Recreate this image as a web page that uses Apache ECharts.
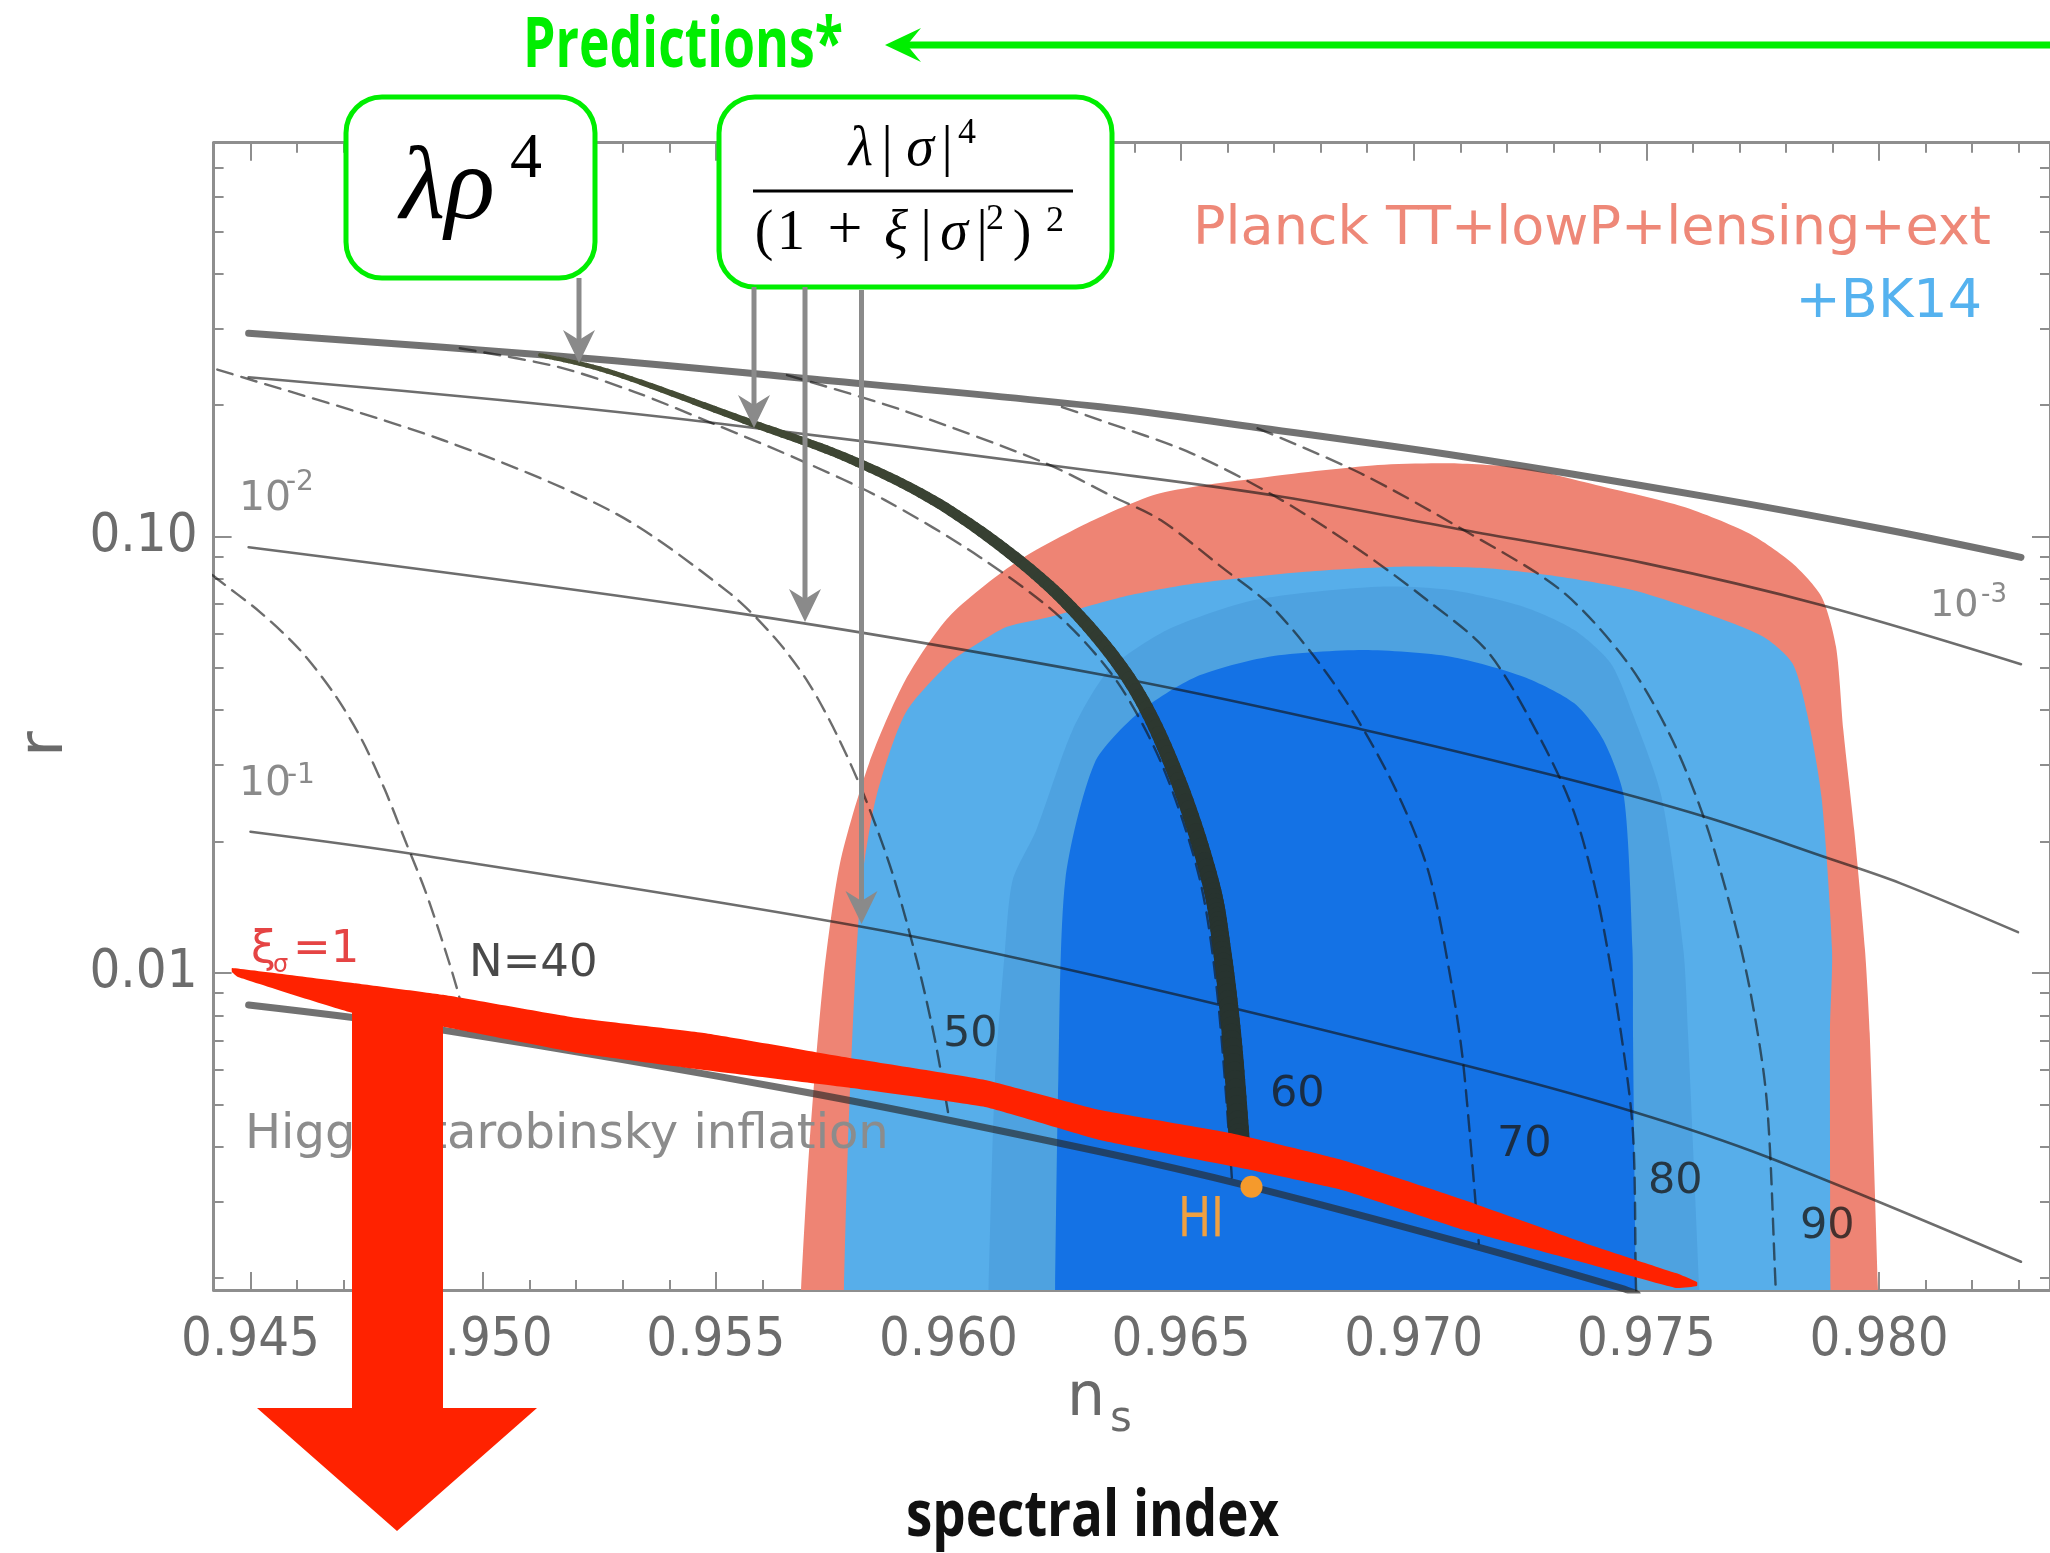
<!DOCTYPE html>
<html>
<head>
<meta charset="utf-8">
<title>Inflation predictions in the r – n_s plane</title>
<script src="https://cdn.jsdelivr.net/npm/echarts@6.0.0/dist/echarts.min.js"></script>
<style>
html,body{margin:0;padding:0;background:#ffffff;}
#chart{width:2050px;height:1553px;}
</style>
</head>
<body>
<div id="chart"></div>
<script>
// ---------------- axis ranges and ticks ----------------
const nsRange = [0.944207, 0.983674];
const rRange = [0.001879, 0.7984];
const nsMajorTicks = [0.945, 0.950, 0.955, 0.960, 0.965, 0.970, 0.975, 0.980];
const nsTickLabels = ['0.945', '0.950', '0.955', '0.960', '0.965', '0.970', '0.975', '0.980'];
const nsMinorTicks = [0.945,0.946,0.947,0.948,0.949,0.950,0.951,0.952,0.953,0.954,0.955,0.956,0.957,0.958,0.959,0.960,0.961,0.962,0.963,0.964,0.965,0.966,0.967,0.968,0.969,0.970,0.971,0.972,0.973,0.974,0.975,0.976,0.977,0.978,0.979,0.980,0.981,0.982,0.983];
const rMajorTicks = [0.01, 0.1];
const rTickLabels = ['0.01', '0.10'];
const rMinorTicks = [0.002,0.003,0.004,0.005,0.006,0.007,0.008,0.009,0.02,0.03,0.04,0.05,0.06,0.07,0.08,0.09,0.2,0.3,0.4,0.5,0.6,0.7];

// ---------------- confidence regions [n_s, r] ----------------
const planckRegion = [[0.956790,0.0014],[0.956810,0.0017],[0.957010,0.004000],[0.957310,0.009638],[0.957669,0.01784],[0.958293,0.03022],[0.959075,0.04690],[0.960012,0.06551],[0.961420,0.08684],[0.962978,0.1072],[0.964547,0.1256],[0.966889,0.1371],[0.969232,0.1458],[0.970794,0.1471],[0.972357,0.1433],[0.973917,0.1312],[0.975795,0.1170],[0.977201,0.1017],[0.978138,0.08684],[0.978763,0.07280],[0.979075,0.05591],[0.979232,0.03602],[0.979466,0.02127],[0.979698,0.01129],[0.979799,0.007286],[0.979990,0.0017],[0.980010,0.0014]];
const bk14Outer = [[0.957740,0.0014],[0.957744,0.0017],[0.957839,0.004000],[0.957992,0.009638],[0.958142,0.01633],[0.958449,0.02533],[0.959075,0.03936],[0.960012,0.05124],[0.960635,0.05692],[0.961258,0.06213],[0.962200,0.06551],[0.963762,0.07280],[0.965325,0.07813],[0.967670,0.08307],[0.969700,0.08530],[0.971574,0.08458],[0.973139,0.08090],[0.974701,0.07541],[0.976264,0.06670],[0.977512,0.05894],[0.978138,0.05124],[0.978452,0.03936],[0.978763,0.02533],[0.978989,0.01129],[0.978946,0.007286],[0.978957,0.0017],[0.978960,0.0014]];
const planckInner = [[0.960840,0.0014],[0.960850,0.0017],[0.961000,0.005687],[0.961215,0.01129],[0.961381,0.01633],[0.961888,0.02127],[0.962668,0.03602],[0.963450,0.04943],[0.964697,0.06106],[0.966575,0.07154],[0.969232,0.07674],[0.970794,0.07541],[0.972357,0.06906],[0.973451,0.06106],[0.974233,0.05124],[0.974701,0.03936],[0.975325,0.02533],[0.975795,0.01129],[0.975894,0.007286],[0.976152,0.0017],[0.976170,0.0014]];
const bk14Inner = [[0.962280,0.0014],[0.962286,0.0017],[0.962361,0.005687],[0.962511,0.01633],[0.963137,0.03022],[0.964074,0.03936],[0.965325,0.04773],[0.966889,0.05305],[0.968920,0.05495],[0.970794,0.05305],[0.972357,0.04773],[0.973451,0.04148],[0.974076,0.03419],[0.974518,0.02530],[0.974701,0.01129],[0.974712,0.007286],[0.974776,0.0017],[0.974780,0.0014]];

// ---------------- model curves [n_s, r] ----------------
const quarticLimit = [[0.94496,0.2921],[0.951596,0.2591],[0.956530,0.2323],[0.963257,0.1983],[0.966513,0.1784],[0.971071,0.1523],[0.976281,0.1234],[0.980192,0.1035],[0.983050,0.0896]];
const xiCurve1e3 = [[0.94496,0.2316],[0.950362,0.2055],[0.954927,0.1823],[0.963257,0.1408],[0.967164,0.1234],[0.971071,0.1035],[0.974981,0.0868],[0.978753,0.0697],[0.983050,0.0510]];
const xiCurve1e2 = [[0.94496,0.0945],[0.955297,0.0672],[0.963537,0.04773],[0.968866,0.0362],[0.973143,0.02812],[0.976259,0.0228],[0.978957,0.01825],[0.980450,0.01607],[0.982986,0.01241]];
const xiCurve1e1 = [[0.945,0.02107],[0.948636,0.01864],[0.958136,0.01277],[0.963257,0.009806],[0.971071,0.006154],[0.974718,0.004811],[0.977585,0.003794],[0.983050,0.002181]];
const higgsStarobinsky = [[0.94496,0.008447],[0.949128,0.007402],[0.957025,0.005311],[0.963257,0.003896],[0.966513,0.003238],[0.971071,0.002406],[0.974454,0.001899],[0.974800,0.001840]];
const efolds40 = [[0.943777,0.0891],[0.944207,0.0812],[0.945204,0.06714],[0.946064,0.05495],[0.946816,0.04334],[0.947396,0.03418],[0.947891,0.02625],[0.948320,0.02017],[0.948750,0.01549],[0.949116,0.01190],[0.949416,0.009387],[0.949674,0.007402]];
const efolds50 = [[0.943777,0.2511],[0.944207,0.2428],[0.949128,0.1664],[0.952829,0.1132],[0.955297,0.0742],[0.956272,0.05854],[0.956981,0.04642],[0.957626,0.03473],[0.958228,0.02489],[0.958808,0.01677],[0.959346,0.01043],[0.959711,0.007022],[0.959990,0.004804]];
const efolds60 = [[0.949498,0.2699],[0.951596,0.2449],[0.953263,0.2143],[0.954927,0.1817],[0.956810,0.1497],[0.958636,0.1212],[0.960678,0.0897],[0.962397,0.0654],[0.963644,0.0462],[0.964611,0.02964],[0.965406,0.01633],[0.965793,0.008671],[0.966094,0.003355]];
const efolds70 = [[0.956530,0.2344],[0.959002,0.1949],[0.962075,0.1474],[0.963537,0.1234],[0.964560,0.1091],[0.965858,0.0853],[0.967018,0.0679],[0.968415,0.04402],[0.969533,0.02739],[0.970306,0.01722],[0.970811,0.009471],[0.971071,0.006100],[0.971398,0.002403]];
const efolds80 = [[0.962440,0.1980],[0.963257,0.1849],[0.965213,0.1553],[0.967035,0.1234],[0.968727,0.0948],[0.970284,0.07154],[0.971596,0.05436],[0.972713,0.03455],[0.973466,0.02301],[0.974003,0.01394],[0.974454,0.007286],[0.974712,0.004300],[0.974776,0.001909],[0.974797,0.001800]];
const efolds90 = [[0.966644,0.1770],[0.968857,0.1396],[0.971071,0.1035],[0.973156,0.07541],[0.974583,0.05160],[0.975507,0.03510],[0.976216,0.02301],[0.976797,0.01431],[0.977227,0.009145],[0.977585,0.005117],[0.977781,0.001879],[0.977796,0.001800]];
const sigmaPath = [[0.951222,0.2604],[0.952829,0.2365],[0.955791,0.1817],[0.957764,0.1523],[0.959668,0.1212],[0.961430,0.0897],[0.962827,0.0654],[0.964031,0.04447],[0.964933,0.02768],[0.965621,0.01633],[0.965879,0.01129],[0.966094,0.007022],[0.966253,0.004078]];
const xiSigmaOneBand = [[0.944602,0.010267],[0.947203,0.009486],[0.949169,0.008902],[0.952038,0.007885],[0.954746,0.007286],[0.957755,0.006420],[0.960786,0.005687],[0.963257,0.004854],[0.966051,0.004300],[0.968458,0.003729],[0.971080,0.003020],[0.973681,0.002406],[0.975636,0.002054],[0.976088,0.001959],
  [0.976088,0.001919],[0.975636,0.001899],[0.973681,0.002166],[0.971080,0.002577],[0.968458,0.003183],[0.966502,0.003537],[0.963257,0.004144],[0.960786,0.004932],[0.957755,0.005480],[0.954746,0.005995],[0.952038,0.006557],[0.949169,0.007520],[0.947203,0.008099],[0.944731,0.009790],[0.944602,0.010053]];
const higgsInflationPoint = [[0.966513, 0.003238]];

// ---------------- helpers ----------------
const chart = echarts.init(document.getElementById('chart'), null, {renderer: 'canvas', width: 2050, height: 1553});

function regionSeries(name, pts, color, z, smooth) {
  return {
    name, type: 'custom', coordinateSystem: 'cartesian2d', xAxisIndex: 0, yAxisIndex: 0,
    clip: true, silent: true, z, data: pts, encode: {x: 0, y: 1},
    renderItem(params, api) {
      if (params.dataIndex !== 0) return null;
      return {type: 'polygon', shape: {points: pts.map(p => api.coord(p)), smooth: smooth}, style: {fill: color}};
    }
  };
}
function curveSeries(name, pts, color, width, dash, z, smooth) {
  return {
    name, type: 'line', data: pts, xAxisIndex: 0, yAxisIndex: 0, symbol: 'none', showSymbol: false,
    smooth: smooth === undefined ? 0.35 : smooth, clip: true, silent: true, z,
    lineStyle: {color, width, type: dash || 'solid', cap: 'round'}
  };
}
function catmullRom(P, n) {
  const out = [];
  for (let i = 0; i < P.length - 1; i++) {
    const p0 = P[Math.max(i - 1, 0)], p1 = P[i], p2 = P[i + 1], p3 = P[Math.min(i + 2, P.length - 1)];
    for (let k = 0; k < n; k++) {
      const t = k / n, t2 = t * t, t3 = t2 * t;
      const f = d => 0.5 * (2 * p1[d] + (-p0[d] + p2[d]) * t + (2 * p0[d] - 5 * p1[d] + 4 * p2[d] - p3[d]) * t2 + (-p0[d] + 3 * p1[d] - 3 * p2[d] + p3[d]) * t3);
      out.push([f(0), f(1)]);
    }
  }
  out.push(P[P.length - 1]);
  return out;
}
function mixColor(a, b, t) {
  const pa = [1, 3, 5].map(i => parseInt(a.substr(i, 2), 16)), pb = [1, 3, 5].map(i => parseInt(b.substr(i, 2), 16));
  return 'rgb(' + pa.map((v, i) => Math.round(v + (pb[i] - v) * t)).join(',') + ')';
}
// variable-width path (thin at the top, thick at the bottom)
function taperedSeries(name, pts, w0, w1, c0, c1, z) {
  return {
    name, type: 'custom', coordinateSystem: 'cartesian2d', xAxisIndex: 0, yAxisIndex: 0,
    clip: true, silent: true, z, data: pts, encode: {x: 0, y: 1},
    renderItem(params, api) {
      if (params.dataIndex !== 0) return null;
      const S = catmullRom(pts.map(p => api.coord(p)), 14);
      const L = [0];
      for (let i = 1; i < S.length; i++) L.push(L[i - 1] + Math.hypot(S[i][0] - S[i - 1][0], S[i][1] - S[i - 1][1]));
      const total = L[L.length - 1];
      const children = [];
      for (let i = 0; i < S.length - 1; i++) {
        const t = (L[i] + L[i + 1]) / 2 / total;
        children.push({type: 'line', shape: {x1: S[i][0], y1: S[i][1], x2: S[i + 1][0], y2: S[i + 1][1]},
          style: {stroke: mixColor(c0, c1, Math.min(1, t * 1.3)), lineWidth: w0 + (w1 - w0) * t, lineCap: 'round'}});
      }
      return {type: 'group', children};
    }
  };
}
function measure(text, font) {
  const c = document.createElement('canvas').getContext('2d');
  c.font = font; return c.measureText(text).width;
}
const SANS = '"DejaVu Sans", sans-serif';
const COND = '"DejaVu Sans Condensed", "DejaVu Sans", sans-serif';
const SERIF = '"Liberation Serif", "DejaVu Serif", serif';
function T(text, x, y, size, fill, extra) {
  const st = Object.assign({text, fill, fontSize: size, fontFamily: SANS, align: 'left', verticalAlign: 'middle'}, (extra && extra.style) || {});
  return Object.assign({type: 'text', x, y, z: 100, silent: true, style: st}, (extra && extra.el) || {});
}

const xAxisBase = (pos) => ({
  type: 'value', position: pos, min: nsRange[0], max: nsRange[1],
  splitLine: {show: false}, axisPointer: {show: false}
});
const yAxisBase = (pos) => ({
  type: 'log', logBase: 10, position: pos, min: rRange[0], max: rRange[1],
  splitLine: {show: false}, minorSplitLine: {show: false}
});
const axisGrey = '#8e8e8e';

// ---------------- annotations ----------------
const predFont = 'bold 70px "Open Sans"';
const specFont = 'bold 64px "Open Sans"';
const predScale = 320 / measure('Predictions*', predFont);
const specScale = 373 / measure('spectral index', specFont);

const graphics = [];
// green headline
graphics.push(T('Predictions*', 523, 47, 70, '#00ee00', {style: {fontFamily: '"Open Sans"', fontWeight: 'bold'}, el: {scaleX: predScale}}));
graphics.push({type: 'line', z: 100, silent: true, shape: {x1: 905, y1: 45, x2: 2060, y2: 45}, style: {stroke: '#00ee00', lineWidth: 7}});
graphics.push({type: 'polygon', z: 101, silent: true, shape: {points: [[885, 45], [921, 28], [907, 45], [921, 62]]}, style: {fill: '#00ee00'}});
// boxes
graphics.push({type: 'rect', z: 100, silent: true, shape: {x: 346, y: 97, width: 249, height: 181, r: 36}, style: {fill: '#ffffff', stroke: '#00ee00', lineWidth: 5}});
graphics.push({type: 'rect', z: 100, silent: true, shape: {x: 719, y: 97, width: 393, height: 190, r: 36}, style: {fill: '#ffffff', stroke: '#00ee00', lineWidth: 5}});
// formula lambda rho^4
graphics.push(T('λρ', 400, 191, 104, '#000', {style: {fontFamily: SERIF, fontStyle: 'italic'}, el: {z: 102}}));
graphics.push(T('4', 510, 160, 64, '#000', {style: {fontFamily: SERIF}, el: {z: 102}}));
// formula fraction (glyph centres)
const glyphs = [
  ['λ', 861, 150, 56, true], ['|', 887, 150, 56, false], ['σ', 920, 150, 56, true], ['|', 947, 150, 56, false], ['4', 967, 134, 36, false],
  ['(', 764, 234, 56, false], ['1', 791, 234, 56, false], ['+', 845, 232, 62, false], ['ξ', 896, 234, 56, true], ['|', 926, 234, 56, false],
  ['σ', 954, 234, 56, true], ['|', 982, 234, 56, false], ['2', 995, 220, 36, false], [')', 1022, 234, 56, false], ['2', 1055, 222, 36, false]
];
glyphs.forEach(g => graphics.push(T(g[0], g[1], g[2], g[3], '#000', {style: {fontFamily: SERIF, fontStyle: g[4] ? 'italic' : 'normal', align: 'center'}, el: {z: 102}})));
graphics.push({type: 'line', z: 102, silent: true, shape: {x1: 753, y1: 191, x2: 1073, y2: 191}, style: {stroke: '#000', lineWidth: 3}});
// grey arrows
[[579, 278, 363], [754, 287, 428], [805, 287, 622], [861.5, 290, 924]].forEach(a => {
  graphics.push({type: 'line', z: 103, silent: true, shape: {x1: a[0], y1: a[1], x2: a[0], y2: a[2] - 18}, style: {stroke: '#8a8a8a', lineWidth: 5}});
  graphics.push({type: 'polygon', z: 103, silent: true, shape: {points: [[a[0], a[2]], [a[0] - 16, a[2] - 33], [a[0], a[2] - 23], [a[0] + 16, a[2] - 33]]}, style: {fill: '#8a8a8a'}});
});
// legend-like labels
graphics.push(T('Planck TT+lowP+lensing+ext', 1991, 230, 54, '#ee8878', {style: {align: 'right'}}));
graphics.push(T('+BK14', 1982, 303, 54, '#55b2ef', {style: {align: 'right'}}));
// xi labels
graphics.push(T('10', 1930, 606, 38, '#8a8a8a'));
graphics.push(T('-3', 1981, 595, 26, '#8a8a8a'));
graphics.push(T('10', 239, 499, 41, '#8a8a8a'));
graphics.push(T('-2', 286, 483, 28, '#8a8a8a'));
graphics.push(T('10', 239, 784, 41, '#8a8a8a'));
graphics.push(T('-1', 287, 776, 28, '#8a8a8a'));
// e-fold labels
const nCol = 'rgba(28,28,28,0.80)';
graphics.push(T('N=40', 469, 964, 45, nCol));
graphics.push(T('50', 943, 1035, 43, nCol));
graphics.push(T('60', 1270, 1095, 43, nCol));
graphics.push(T('70', 1497, 1145, 43, nCol));
graphics.push(T('80', 1648, 1182, 43, nCol));
graphics.push(T('90', 1800, 1227, 43, nCol));
graphics.push(T('HI', 1178, 1222, 55, '#f0a040', {el: {scaleX: 0.8}}));
// xi_sigma = 1
graphics.push(T('ξ', 251, 950, 45, '#e54444'));
graphics.push(T('σ', 273, 966, 24, '#e54444'));
graphics.push(T('=1', 293, 950, 45, '#e54444'));
// Higgs-Starobinsky
graphics.push(T('Higgs-Starobinsky inflation', 245, 1136, 48, '#8c8c8c'));
// big red arrow (annotation)
graphics.push({type: 'polygon', z: 110, silent: true, shape: {points: [[352, 996], [443, 996], [443, 1408], [537, 1408], [397, 1531], [257, 1408], [352, 1408]]}, style: {fill: '#ff2200'}});
// axis titles
graphics.push(T('r', 46, 744, 62, '#6a6a6a', {style: {align: 'center'}, el: {rotation: Math.PI / 2}}));
graphics.push(T('n', 1067, 1399, 60, '#6a6a6a'));
graphics.push(T('s', 1110, 1420, 42, '#6a6a6a'));
graphics.push(T('spectral index', 906, 1518, 64, '#111111', {style: {fontFamily: '"Open Sans"', fontWeight: 'bold'}, el: {scaleX: specScale}}));

// ---------------- option ----------------
const option = {
  animation: false,
  backgroundColor: '#ffffff',
  grid: {left: 213.6, right: 0, top: 142.7, bottom: 263, containLabel: false, outerBoundsMode: 'none'},
  xAxis: [
    Object.assign(xAxisBase('bottom'), {
      axisLine: {show: true, onZero: false, lineStyle: {color: axisGrey, width: 3}},
      axisTick: {show: true, inside: true, length: 18, customValues: nsMajorTicks, lineStyle: {color: axisGrey, width: 2}},
      axisLabel: {show: true, customValues: nsMajorTicks, margin: 24, fontSize: 54, fontFamily: COND, color: '#6c6c6c',
        formatter: v => nsTickLabels[nsMajorTicks.findIndex(t => Math.abs(t - v) < 1e-6)]}
    }),
    Object.assign(xAxisBase('bottom'), {
      axisLine: {show: false, onZero: false},
      axisTick: {show: true, inside: true, length: 10, customValues: nsMinorTicks, lineStyle: {color: axisGrey, width: 2}},
      axisLabel: {show: false}
    }),
    Object.assign(xAxisBase('top'), {
      axisLine: {show: true, onZero: false, lineStyle: {color: axisGrey, width: 3}},
      axisTick: {show: true, inside: true, length: 18, customValues: nsMajorTicks, lineStyle: {color: axisGrey, width: 2}},
      axisLabel: {show: false}
    }),
    Object.assign(xAxisBase('top'), {
      axisLine: {show: false, onZero: false},
      axisTick: {show: true, inside: true, length: 10, customValues: nsMinorTicks, lineStyle: {color: axisGrey, width: 2}},
      axisLabel: {show: false}
    })
  ],
  yAxis: [
    Object.assign(yAxisBase('left'), {
      axisLine: {show: true, onZero: false, lineStyle: {color: axisGrey, width: 3}},
      axisTick: {show: true, inside: true, length: 18, customValues: rMajorTicks, lineStyle: {color: axisGrey, width: 2}},
      axisLabel: {show: true, customValues: rMajorTicks, margin: 16, fontSize: 54, fontFamily: COND, color: '#6c6c6c',
        formatter: v => rTickLabels[Math.round(Math.log10(v)) + 2]}
    }),
    Object.assign(yAxisBase('left'), {
      axisLine: {show: false, onZero: false},
      axisTick: {show: true, inside: true, length: 10, customValues: rMinorTicks, lineStyle: {color: axisGrey, width: 2}},
      axisLabel: {show: false}
    }),
    Object.assign(yAxisBase('right'), {
      axisLine: {show: true, onZero: false, lineStyle: {color: axisGrey, width: 3}},
      axisTick: {show: true, inside: true, length: 18, customValues: rMajorTicks, lineStyle: {color: axisGrey, width: 2}},
      axisLabel: {show: false}
    }),
    Object.assign(yAxisBase('right'), {
      axisLine: {show: false, onZero: false},
      axisTick: {show: true, inside: true, length: 10, customValues: rMinorTicks, lineStyle: {color: axisGrey, width: 2}},
      axisLabel: {show: false}
    })
  ],
  series: [
    regionSeries('Planck TT+lowP+lensing+ext 95%', planckRegion, '#ee8474', 1, 0.25),
    regionSeries('+BK14 95%', bk14Outer, '#57aeea', 1, 0.25),
    regionSeries('Planck 68%', planckInner, '#4ea2e0', 1, 0.25),
    regionSeries('+BK14 68%', bk14Inner, '#1472e5', 1, 0.25),
    curveSeries('quartic limit', quarticLimit, 'rgba(60,60,60,0.72)', 7, null, 3),
    curveSeries('xi=1e-3', xiCurve1e3, 'rgba(20,20,20,0.62)', 2.6, null, 3),
    curveSeries('xi=1e-2', xiCurve1e2, 'rgba(20,20,20,0.62)', 2.6, null, 3),
    curveSeries('xi=1e-1', xiCurve1e1, 'rgba(20,20,20,0.62)', 2.6, null, 3),
    curveSeries('Higgs-Starobinsky', higgsStarobinsky, 'rgba(40,40,40,0.66)', 7, null, 3),
    curveSeries('N=40', efolds40, 'rgba(20,20,20,0.62)', 2.4, [16, 9], 3, 0.3),
    curveSeries('N=50', efolds50, 'rgba(20,20,20,0.62)', 2.4, [16, 9], 3, 0.3),
    curveSeries('N=60', efolds60, 'rgba(20,20,20,0.62)', 2.4, [16, 9], 3, 0.3),
    curveSeries('N=70', efolds70, 'rgba(20,20,20,0.62)', 2.4, [16, 9], 3, 0.3),
    curveSeries('N=80', efolds80, 'rgba(20,20,20,0.62)', 2.4, [16, 9], 3, 0.3),
    curveSeries('N=90', efolds90, 'rgba(20,20,20,0.62)', 2.4, [16, 9], 3, 0.3),
    taperedSeries('sigma path', sigmaPath, 4, 21, '#4a5036', '#27332f', 4),
    regionSeries('xi_sigma = 1', xiSigmaOneBand, '#ff2200', 5, 0.12),
    {name: 'HI', type: 'scatter', data: higgsInflationPoint, xAxisIndex: 0, yAxisIndex: 0, symbolSize: 22, silent: true, z: 6,
      itemStyle: {color: '#f59a2c', opacity: 1}}
  ],
  graphic: {elements: graphics}
};
chart.setOption(option);
</script>
</body>
</html>
